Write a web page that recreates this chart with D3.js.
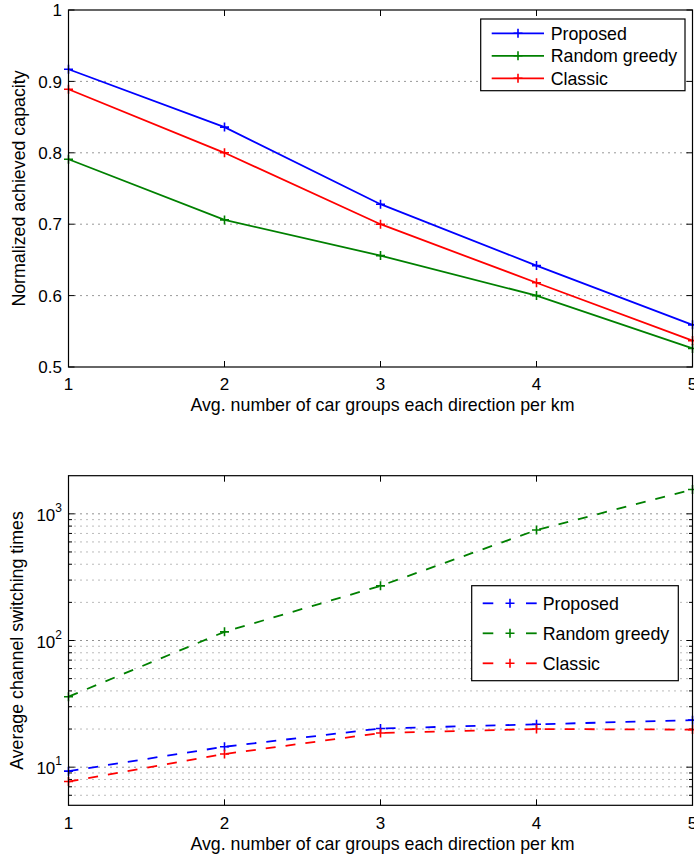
<!DOCTYPE html>
<html>
<head>
<meta charset="utf-8">
<script src="https://cdn.jsdelivr.net/npm/d3@7"></script>
<style>
  html, body { margin: 0; padding: 0; background: #fff; }
  svg { display: block; }
  text { font-family: "Liberation Sans", Arial, Helvetica, sans-serif; fill: #000; }
</style>
</head>
<body>
<svg id="chart" width="694" height="856"></svg>
<script>
// ---- Data ----
const xValues = [1, 2, 3, 4, 5];
const xTickLabels = ["1", "2", "3", "4", "5"];
const seriesNames = ["Proposed", "Random greedy", "Classic"];
const seriesColors = ["#0000ff", "#008000", "#ff0000"];

// Top chart: normalized achieved capacity
const capProposed = [0.917, 0.836, 0.728, 0.642, 0.559];
const capRandomGreedy = [0.791, 0.706, 0.656, 0.600, 0.526];
const capClassic = [0.889, 0.800, 0.700, 0.618, 0.537];
const capTicks = [0.5, 0.6, 0.7, 0.8, 0.9, 1];
const capTickLabels = ["0.5", "0.6", "0.7", "0.8", "0.9", "1"];

// Bottom chart: average channel switching times (log scale)
const swProposed = [9.3, 14.5, 20.2, 21.8, 23.5];
const swRandomGreedy = [36, 117, 270, 745, 1556];
const swClassic = [7.7, 12.7, 18.6, 20.0, 19.8];
const swMajorTicks = [10, 100, 1000];
const swTickExponents = ["1", "2", "3"];

const xLabel = "Avg. number of car groups each direction per km";
const yLabelTop = "Normalized achieved capacity";
const yLabelBottom = "Average channel switching times";

// ---- Drawing ----
const svg = d3.select("#chart");
const L = 68.5, R = 692.5;
const TICK_FS = "17px", LABEL_FS = "17.8px", LEGEND_FS = "17.8px";

function frame(g, top, bottom) {
  g.append("rect").attr("x", L).attr("y", top).attr("width", R - L).attr("height", bottom - top)
    .attr("fill", "none").attr("stroke", "#000").attr("stroke-width", 1.2);
}

function xAxisTicks(g, x, top, bottom, labelY, axisLabelY) {
  xValues.forEach((v, i) => {
    const px = x(v);
    g.append("line").attr("x1", px).attr("x2", px).attr("y1", bottom).attr("y2", bottom - 6).attr("stroke", "#000");
    g.append("line").attr("x1", px).attr("x2", px).attr("y1", top).attr("y2", top + 6).attr("stroke", "#000");
    g.append("text").attr("x", px).attr("y", labelY).attr("text-anchor", "middle")
      .attr("font-size", TICK_FS).text(xTickLabels[i]);
  });
  g.append("text").attr("x", (L + R) / 2 + 2).attr("y", axisLabelY).attr("text-anchor", "middle")
    .attr("font-size", LABEL_FS).text(xLabel);
}

function plus(g, px, py, color) {
  const s = 4.5;
  g.append("path").attr("d", `M${px - s},${py}H${px + s}M${px},${py - s}V${py + s}`)
    .attr("stroke", color).attr("stroke-width", 1.6).attr("fill", "none");
}

// ===== Top chart =====
{
  const top = 10, bottom = 367;
  const g = svg.append("g");
  const x = d3.scaleLinear().domain([1, 5]).range([L, R]);
  const y = d3.scaleLinear().domain([0.5, 1]).range([bottom, top]);

  capTicks.filter(t => t > 0.5 && t < 1).forEach(t => {
    g.append("line").attr("x1", L).attr("x2", R).attr("y1", y(t)).attr("y2", y(t))
      .attr("stroke", "#333").attr("stroke-width", 1).attr("stroke-dasharray", "1,5");
  });
  capTicks.forEach((t, i) => {
    g.append("line").attr("x1", L).attr("x2", L + 6).attr("y1", y(t)).attr("y2", y(t)).attr("stroke", "#000");
    g.append("line").attr("x1", R).attr("x2", R - 6).attr("y1", y(t)).attr("y2", y(t)).attr("stroke", "#000");
    g.append("text").attr("x", 62).attr("y", y(t)).attr("dy", "0.36em").attr("text-anchor", "end")
      .attr("font-size", TICK_FS).text(capTickLabels[i]);
  });
  xAxisTicks(g, x, top, bottom, 390, 411);

  const data = [capProposed, capRandomGreedy, capClassic];
  const line = d3.line().x((d, i) => x(xValues[i])).y(d => y(d)).curve(d3.curveLinear);
  data.forEach((vals, k) => {
    g.append("path").attr("d", line(vals)).attr("fill", "none")
      .attr("stroke", seriesColors[k]).attr("stroke-width", 1.8);
    vals.forEach((v, i) => plus(g, x(xValues[i]), y(v), seriesColors[k]));
  });
  frame(g, top, bottom);

  g.append("text").attr("transform", `translate(25,${(top + bottom) / 2}) rotate(-90)`)
    .attr("text-anchor", "middle").attr("font-size", LABEL_FS).text(yLabelTop);

  const lg = g.append("g");
  lg.append("rect").attr("x", 480.7).attr("y", 19).attr("width", 204.3).attr("height", 71.7)
    .attr("fill", "#fff").attr("stroke", "#000").attr("stroke-width", 1.2);
  const rowsY = [33.3, 55.8, 78.3];
  [0, 1, 2].forEach(k => {
    const ry = rowsY[k];
    lg.append("line").attr("x1", 491.7).attr("x2", 544).attr("y1", ry).attr("y2", ry)
      .attr("stroke", seriesColors[k]).attr("stroke-width", 1.8);
    plus(lg, 518, ry, seriesColors[k]);
    lg.append("text").attr("x", 550.7).attr("y", ry).attr("dy", "0.36em")
      .attr("font-size", LEGEND_FS).text(seriesNames[k]);
  });
}

// ===== Bottom chart =====
{
  const top = 475.7, bottom = 805.3;
  const g = svg.append("g");
  const x = d3.scaleLinear().domain([1, 5]).range([L, R]);
  const y = d3.scaleLog().domain([5, 2000]).range([bottom, top]);

  const minor = [];
  [1, 10, 100, 1000].forEach(base => {
    for (let m = 2; m <= 9; m++) {
      const v = base * m;
      if (v > 5 && v < 2000) minor.push(v);
    }
  });
  minor.forEach(v => {
    g.append("line").attr("x1", L).attr("x2", R).attr("y1", y(v)).attr("y2", y(v))
      .attr("stroke", "#777").attr("stroke-width", 1).attr("stroke-dasharray", "1,5");
    g.append("line").attr("x1", L).attr("x2", L + 3.5).attr("y1", y(v)).attr("y2", y(v)).attr("stroke", "#000");
    g.append("line").attr("x1", R).attr("x2", R - 3.5).attr("y1", y(v)).attr("y2", y(v)).attr("stroke", "#000");
  });
  swMajorTicks.forEach((v, i) => {
    g.append("line").attr("x1", L).attr("x2", R).attr("y1", y(v)).attr("y2", y(v))
      .attr("stroke", "#222").attr("stroke-width", 1).attr("stroke-dasharray", "1,5");
    g.append("line").attr("x1", L).attr("x2", L + 6).attr("y1", y(v)).attr("y2", y(v)).attr("stroke", "#000");
    g.append("line").attr("x1", R).attr("x2", R - 6).attr("y1", y(v)).attr("y2", y(v)).attr("stroke", "#000");
    const t = g.append("text").attr("x", 62).attr("y", y(v) + 7).attr("text-anchor", "end")
      .attr("font-size", TICK_FS);
    t.append("tspan").text("10");
    t.append("tspan").attr("dy", -9).attr("font-size", "12px").text(swTickExponents[i]);
  });
  xAxisTicks(g, x, top, bottom, 828.5, 849.5);

  const data = [swProposed, swRandomGreedy, swClassic];
  const line = d3.line().x((d, i) => x(xValues[i])).y(d => y(d)).curve(d3.curveLinear);
  data.forEach((vals, k) => {
    g.append("path").attr("d", line(vals)).attr("fill", "none")
      .attr("stroke", seriesColors[k]).attr("stroke-width", 1.8).attr("stroke-dasharray", "10,10");
    vals.forEach((v, i) => plus(g, x(xValues[i]), y(v), seriesColors[k]));
  });
  frame(g, top, bottom);

  g.append("text").attr("transform", `translate(23,${(top + bottom) / 2}) rotate(-90)`)
    .attr("text-anchor", "middle").attr("font-size", LABEL_FS).text(yLabelBottom);

  const lg = g.append("g");
  lg.append("rect").attr("x", 471.7).attr("y", 585.7).attr("width", 206.6).attr("height", 95)
    .attr("fill", "#fff").attr("stroke", "#000").attr("stroke-width", 1.2);
  const rowsY = [603.3, 633.3, 663.3];
  [0, 1, 2].forEach(k => {
    const ry = rowsY[k];
    [[482.7, 493.3], [526, 536.7]].forEach(([a, b]) => {
      lg.append("line").attr("x1", a).attr("x2", b).attr("y1", ry).attr("y2", ry)
        .attr("stroke", seriesColors[k]).attr("stroke-width", 1.8);
    });
    plus(lg, 510, ry, seriesColors[k]);
    lg.append("text").attr("x", 542.7).attr("y", ry).attr("dy", "0.36em")
      .attr("font-size", LEGEND_FS).text(seriesNames[k]);
  });
}
</script>
</body>
</html>
